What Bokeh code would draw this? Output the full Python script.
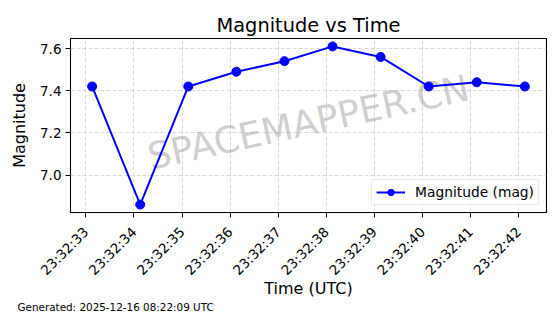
import math
import pandas as pd
from bokeh.plotting import figure
from bokeh.models import (Range1d, FixedTicker, DatetimeTickFormatter, Title, Label,
                          NumeralTickFormatter)
from bokeh.embed import file_html
from bokeh.resources import INLINE

# ---- data ----
date_str = "2025-12-15"
times = ["23:32:33.13", "23:32:34.13", "23:32:35.13", "23:32:36.13", "23:32:37.13",
         "23:32:38.13", "23:32:39.13", "23:32:40.13", "23:32:41.13", "23:32:42.13"]
magnitudes = [7.42, 6.86, 7.42, 7.49, 7.54, 7.61, 7.56, 7.42, 7.44, 7.42]
tick_labels = ["23:32:33", "23:32:34", "23:32:35", "23:32:36", "23:32:37",
               "23:32:38", "23:32:39", "23:32:40", "23:32:41", "23:32:42"]
y_ticks = [7.0, 7.2, 7.4, 7.6]
title_text = "Magnitude vs Time"
footer_text = "Generated: 2025-12-16 08:22:09 UTC"
watermark = "SPACEMAPPER.CN"
series_name = "Magnitude (mag)"

FONT = "DejaVu Sans"
EPOCH = pd.Timestamp("1970-01-01")

x_ms = [(pd.Timestamp(date_str + " " + t) - EPOCH).total_seconds() * 1000.0 for t in times]
tick_ms = [(pd.Timestamp(date_str + " " + t) - EPOCH).total_seconds() * 1000.0 for t in tick_labels]

xmin, xmax = min(x_ms), max(x_ms)
xpad = (xmax - xmin) * 0.05
ymin, ymax = min(magnitudes), max(magnitudes)
ypad = (ymax - ymin) * 0.05
y_start = ymin - ypad

p = figure(frame_width=476, frame_height=174, x_axis_type="datetime",
           x_range=Range1d(xmin - xpad, xmax + xpad),
           y_range=Range1d(y_start, ymax + ypad),
           output_backend="svg", toolbar_location=None,
           min_border_left=70, min_border_right=14, min_border_top=38, min_border_bottom=102)

p.background_fill_color = "white"
p.border_fill_color = "white"
p.outline_line_color = "black"
p.outline_line_width = 1.1
p.outline_line_alpha = 1.0

# title
p.title.text = title_text
p.title.align = "center"
p.title.text_font = FONT
p.title.text_font_size = "19.4px"
p.title.text_font_style = "normal"
p.title.text_color = "black"
p.title.standoff = 4

# grid
for g in (p.xgrid, p.ygrid):
    g.grid_line_color = "#cfcfcf"
    g.grid_line_dash = "4 2"
    g.grid_line_width = 0.8

p.xgrid.ticker = FixedTicker(ticks=tick_ms)
p.ygrid.ticker = FixedTicker(ticks=y_ticks)

# axes
fmt = "%H:%M:%S"
p.xaxis.ticker = FixedTicker(ticks=tick_ms)
p.xaxis.formatter = DatetimeTickFormatter(
    milliseconds=fmt, seconds=fmt, minsec=fmt, minutes=fmt, hourmin=fmt,
    hours=fmt, days=fmt, months=fmt, years=fmt)
p.xaxis.major_label_orientation = math.pi / 4
p.yaxis.ticker = FixedTicker(ticks=y_ticks)
p.yaxis.formatter = NumeralTickFormatter(format="0.0")

for ax in (p.xaxis, p.yaxis):
    ax.axis_line_color = None
    ax.major_tick_line_color = "black"
    ax.major_tick_out = 5
    ax.major_tick_in = 0
    ax.minor_tick_line_color = None
    ax.major_label_text_font = FONT
    ax.major_label_text_font_size = "13.5px"
    ax.major_label_text_color = "black"
    ax.major_label_standoff = 4
    ax.axis_label_text_font = FONT
    ax.axis_label_text_font_size = "16px"
    ax.axis_label_text_font_style = "normal"
    ax.axis_label_text_color = "black"

p.xaxis.major_label_standoff = 12
p.xaxis.axis_label = "Time (UTC)"
p.yaxis.axis_label = "Magnitude"
p.xaxis.axis_label_standoff = -8
p.yaxis.axis_label_standoff = 8

# watermark (centered in axes)
wm = Label(x=(xmin + xmax) / 2.0, y=(ymin + ymax) / 2.0, y_offset=3, text=watermark,
           angle=12.3, angle_units="deg", text_font=FONT, text_font_size="36.5px",
           text_color="gray", text_alpha=0.4, text_align="center",
           text_baseline="middle", level="underlay")
p.add_layout(wm)

# data
p.line(x_ms, magnitudes, line_color="#0000ff", line_width=2, legend_label=series_name)
p.scatter(x_ms, magnitudes, marker="circle", size=9, fill_color="#0000ff",
          line_color="#0000ff", legend_label=series_name)

# legend
lg = p.legend[0]
lg.location = "bottom_right"
lg.margin = 7
lg.padding = 4
lg.spacing = 0
lg.glyph_width = 29
lg.glyph_height = 16
lg.label_height = 16
lg.label_standoff = 10
lg.label_text_font = FONT
lg.label_text_font_size = "13.8px"
lg.label_text_color = "black"
lg.border_line_color = "#d6d6d6"
lg.border_line_width = 1
lg.background_fill_alpha = 0.8

# footer
footer = Title(text=footer_text, align="left", offset=-53, text_font=FONT,
               text_font_size="10.4px", text_font_style="normal", text_color="black",
               standoff=-3)
p.add_layout(footer, "below")

open("out.html", "w").write(file_html(p, INLINE))
